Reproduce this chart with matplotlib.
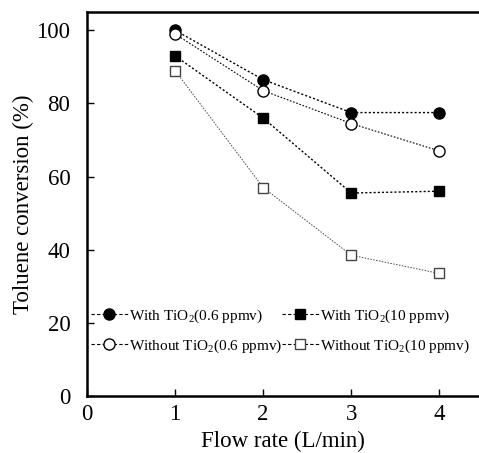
import matplotlib
matplotlib.use("Agg")
import matplotlib.pyplot as plt
from matplotlib.lines import Line2D

plt.rcParams['font.family'] = ['Liberation Serif', 'DejaVu Serif']
plt.rcParams['mathtext.fontset'] = 'custom'
plt.rcParams['mathtext.rm'] = 'Liberation Serif'

flow = [1, 2, 3, 4]
with_06 = [100, 86.5, 77.5, 77.5]
without_06 = [99, 83.5, 74.5, 67]
with_10 = [93, 76, 55.5, 56]
without_10 = [89, 57, 38.5, 33.5]
labels = ['With TiO$_2$(0.6 ppmv)', 'With TiO$_2$(10 ppmv)',
          'Without TiO$_2$(0.6 ppmv)', 'Without TiO$_2$(10 ppmv)']

fig = plt.figure(figsize=(4.79, 4.53), dpi=100)
ax = fig.add_axes([87/479, 1-396/453, (479-87)/479, (396-12)/453])

ls = (0, (1.5, 1.5))
ax.plot(flow, with_06, ls=ls, color='black', lw=1.0, marker='o', ms=8, mfc='black', mec='black')
ax.plot(flow, without_06, ls=ls, color='black', lw=0.8, marker='o', ms=8, mfc='white', mec='black')
ax.plot(flow, with_10, ls=ls, color='black', lw=1.0, marker='s', ms=7.5, mfc='black', mec='black')
ax.plot(flow, without_10, ls=ls, color='#444444', lw=0.7, marker='s', ms=7.5, mfc='white', mec='#444444')

ax.set_xlim(0, 4.45)
ax.set_ylim(0, 105)
ax.set_xticks([0, 1, 2, 3, 4])
ax.set_yticks([0, 20, 40, 60, 80, 100])
ax.tick_params(direction='in', labelsize=16.5, length=5, width=1)
ax.tick_params(axis='x', pad=6)
ax.tick_params(axis='y', pad=12)
ax.spines['right'].set_visible(False)
for s in ['left', 'top', 'bottom']:
    ax.spines[s].set_linewidth(1.8)
ax.set_xlabel('Flow rate (L/min)', fontsize=16.5, labelpad=4)
ax.set_ylabel('Toluene conversion (%)', fontsize=16.5, labelpad=2)

handles = [
    Line2D([], [], ls=(0, (3, 2)), color='black', lw=0.8, marker='o', ms=8, mfc='black', mec='black'),
    Line2D([], [], ls=(0, (3, 2)), color='black', lw=0.8, marker='o', ms=8, mfc='white', mec='black'),
    Line2D([], [], ls=(0, (3, 2)), color='black', lw=0.8, marker='s', ms=7, mfc='black', mec='black'),
    Line2D([], [], ls=(0, (3, 2)), color='black', lw=0.8, marker='s', ms=7, mfc='white', mec='#444444'),
]
ax.legend([handles[0], handles[1], handles[2], handles[3]],
          [labels[0], labels[2], labels[1], labels[3]],
          ncol=2, loc='upper left', bbox_to_anchor=(-0.005, 0.247), frameon=False,
          fontsize=11, handlelength=2.4, handletextpad=0.05, columnspacing=0.0,
          labelspacing=0.85, borderaxespad=0)

fig.savefig('out.png', dpi=100)
